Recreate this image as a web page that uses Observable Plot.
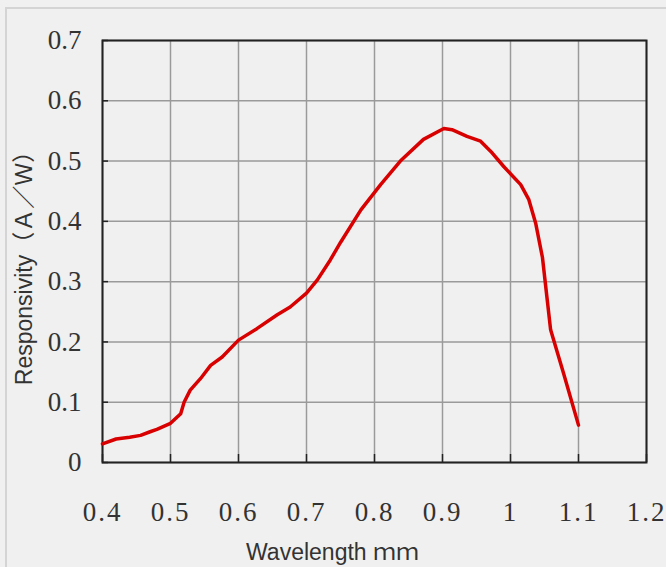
<!DOCTYPE html>
<html>
<head>
<meta charset="utf-8">
<script src="https://cdn.jsdelivr.net/npm/d3@7"></script>
<script src="https://cdn.jsdelivr.net/npm/@observablehq/plot@0.6"></script>
<style>
  html, body { margin: 0; padding: 0; background: #f0f0f0; }
  #wrap { position: relative; width: 666px; height: 567px; overflow: hidden; }
  #edge { position: absolute; left: 5px; top: 7px; width: 700px; height: 600px;
          border-left: 2px solid #d4d4d4; border-top: 2px solid #d4d4d4; }
  #chart { position: absolute; left: 0; top: 0; }
</style>
</head>
<body>
<div id="wrap"><div id="edge"></div><div id="chart"></div></div>
<script>
// Wavelength (x) and responsivity (y)
const wavelength = [0.40, 0.42, 0.44, 0.456, 0.47, 0.48, 0.50, 0.515, 0.52, 0.529, 0.544, 0.559, 0.576, 0.60, 0.627, 0.657, 0.676, 0.70, 0.716, 0.735, 0.75, 0.78, 0.809, 0.838, 0.872, 0.902, 0.914, 0.936, 0.956, 0.971, 0.99, 1.015, 1.027, 1.037, 1.047, 1.054, 1.059, 1.078, 1.10];
const responsivity = [0.031, 0.039, 0.042, 0.045, 0.051, 0.055, 0.065, 0.081, 0.100, 0.120, 0.139, 0.161, 0.175, 0.203, 0.222, 0.245, 0.258, 0.281, 0.303, 0.336, 0.365, 0.419, 0.461, 0.500, 0.536, 0.554, 0.552, 0.541, 0.533, 0.516, 0.491, 0.461, 0.436, 0.397, 0.340, 0.270, 0.220, 0.148, 0.062];

const xTicks = [0.4, 0.5, 0.6, 0.7, 0.8, 0.9, 1, 1.1, 1.2];
const yTicks = [0, 0.1, 0.2, 0.3, 0.4, 0.5, 0.6, 0.7];
const xLabel = "Wavelength ｍｍ";
const yLabel = "Responsivity（Ａ／Ｗ）";

const data = wavelength.map((w, i) => ({w, r: responsivity[i]}));

const tickFont = "'Liberation Serif', 'DejaVu Serif', serif";
const labelFont = "'Liberation Sans', 'Noto Sans CJK SC', sans-serif";

const svg = Plot.plot({
  width: 666,
  height: 567,
  marginLeft: 102,
  marginRight: 20,
  marginTop: 40,
  marginBottom: 105,
  style: {background: "transparent", color: "#222"},
  x: {domain: [0.4, 1.2], ticks: xTicks},
  y: {domain: [0, 0.7], ticks: yTicks},
  marks: [
    Plot.gridX(xTicks, {stroke: "#9a9a9a", strokeOpacity: 1, strokeWidth: 1.5}),
    Plot.gridY(yTicks, {stroke: "#9a9a9a", strokeOpacity: 1, strokeWidth: 1.5}),
    Plot.tickX(xTicks, {x: d => d, stroke: "#222", strokeWidth: 1.5, insetTop: 414}),
    Plot.tickY(yTicks, {y: d => d, stroke: "#222", strokeWidth: 1.5, insetRight: 538}),
    Plot.frame({stroke: "#222", strokeWidth: 2}),
    Plot.axisX(xTicks, {tickSize: 0, tickPadding: 39, fontSize: 27, fontFamily: tickFont, fill: "#333", tickFormat: d => String(d), label: null}),
    Plot.axisY(yTicks, {anchor: "left", tickSize: 0, tickPadding: 21, fontSize: 27, fontFamily: tickFont, fill: "#333", tickFormat: d => String(d), label: null}),
    Plot.line(data, {x: "w", y: "r", stroke: "#d80000", strokeWidth: 3.5, strokeLinejoin: "round", strokeLinecap: "round"}),
    Plot.text([xLabel], {frameAnchor: "bottom", text: d => d, dx: -42, dy: 97, fontSize: 23, fontFamily: labelFont, fill: "#333"}),
    Plot.text([yLabel], {frameAnchor: "left", textAnchor: "middle", text: d => d, rotate: -90, dx: -78, dy: 11, fontSize: 23, fontFamily: labelFont, fill: "#333"})
  ]
});

d3.select(svg).selectAll("g[aria-label='x-axis tick label'] text").style("letter-spacing", "2px");
document.getElementById("chart").appendChild(svg);
</script>
</body>
</html>
